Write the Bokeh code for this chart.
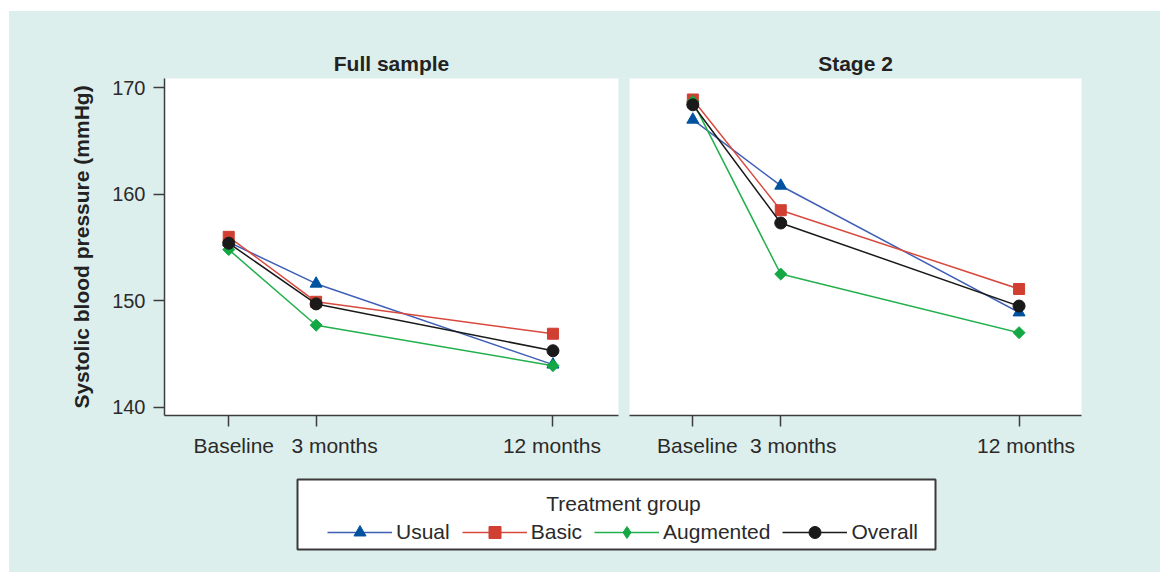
import numpy as np
from bokeh.plotting import figure
from bokeh.layouts import row, column
from bokeh.models import Range1d, FixedTicker, Legend, LegendItem, Label, LinearAxis
from bokeh.embed import file_html
from bokeh.resources import INLINE

# ---- data ----
time_labels = ["Baseline", "3 months", "12 months"]
time_pos = [0, 1, 3.71]
y_ticks = [140, 150, 160, 170]

groups = ["Usual", "Basic", "Augmented", "Overall"]
full_usual = [155.5, 151.6, 144.0]
full_basic = [156.0, 149.9, 146.9]
full_augmented = [154.8, 147.7, 143.9]
full_overall = [155.4, 149.7, 145.3]
stage2_usual = [167.0, 160.8, 148.9]
stage2_basic = [168.9, 158.5, 151.1]
stage2_augmented = [168.7, 152.5, 147.0]
stage2_overall = [168.4, 157.3, 149.5]

panel_titles = ["Full sample", "Stage 2"]
y_title = "Systolic blood pressure (mmHg)"
legend_title = "Treatment group"

# ---- styles ----
BG = "#ddefed"
FONT = "Liberation Sans"
TXT = "#2a2a2a"
AX = "#3c3c3c"
Y_MIN, Y_MAX = 139.22, 170.87
styles = {
    "Usual": dict(line="#3f5fb5", fill="#00529f", marker="triangle", size=12, angle=0),
    "Basic": dict(line="#d8493d", fill="#d13f33", marker="square", size=11, angle=0),
    "Augmented": dict(line="#22b04c", fill="#14a845", marker="square", size=8.5, angle=np.pi / 4),
    "Overall": dict(line="#1a1a1a", fill="#1a1a1a", marker="circle", size=12, angle=0),
}
# horizontal nudges (px) of the time labels relative to their ticks, as in the original
label_nudge_full = [5, 18.5, -1]
label_nudge_stage2 = [4.5, 12.5, 7]


def make_panel(title, series, width, x_rng, mb_left, mb_right, show_y, nudges):
    frame_w = width - mb_left - mb_right
    p = figure(width=width, height=459, output_backend="svg", toolbar_location=None,
               x_range=Range1d(*x_rng), y_range=Range1d(Y_MIN, Y_MAX),
               y_axis_location="left" if show_y else None,
               min_border_left=mb_left, min_border_right=mb_right,
               min_border_top=67, min_border_bottom=55)
    p.border_fill_color = BG
    p.background_fill_color = "white"
    p.outline_line_color = None
    p.grid.visible = False
    p.title.text = title
    p.title.align = "center"
    p.title.text_font = FONT
    p.title.text_font_size = "21px"
    p.title.text_font_style = "bold"
    p.title.text_color = "#222222"
    p.title.standoff = 7

    # axis carrying the tick marks
    xa = p.xaxis[0]
    xa.ticker = FixedTicker(ticks=time_pos)
    xa.major_label_overrides = {t: "" for t in time_pos}
    xa.major_label_text_font_size = "0px"
    xa.major_label_standoff = 0
    axes = [xa]
    if show_y:
        ya = p.yaxis[0]
        ya.ticker = FixedTicker(ticks=y_ticks)
        ya.axis_label = y_title
        ya.axis_label_text_font = FONT
        ya.axis_label_text_font_size = "21px"
        ya.axis_label_text_font_style = "bold"
        ya.axis_label_text_color = "#222222"
        ya.axis_label_standoff = 16
        ya.major_label_text_font_size = "20px"
        ya.major_label_text_font = FONT
        ya.major_label_text_color = TXT
        ya.major_label_standoff = 8
        axes.append(ya)
    for a in axes:
        a.axis_line_color = AX
        a.axis_line_width = 1.5
        a.major_tick_line_color = AX
        a.major_tick_line_width = 1.5
        a.major_tick_out = 11
        a.major_tick_in = 0
        a.minor_tick_out = 0
        a.minor_tick_in = 0

    # second axis carrying the (slightly nudged) time-point labels
    ppu = frame_w / (x_rng[1] - x_rng[0])
    lab_pos = [round(t + dx / ppu, 4) for t, dx in zip(time_pos, nudges)]
    la = LinearAxis(ticker=FixedTicker(ticks=lab_pos),
                    major_label_overrides={lp: lab for lp, lab in zip(lab_pos, time_labels)},
                    axis_line_color=None, major_tick_line_color=None, minor_tick_line_color=None,
                    major_tick_out=0, major_tick_in=0, minor_tick_out=0, minor_tick_in=0,
                    major_label_standoff=7, major_label_text_font=FONT,
                    major_label_text_font_size="21px", major_label_text_color=TXT)
    p.add_layout(la, "below")

    for g, vals in zip(groups, series):
        s = styles[g]
        p.line(time_pos, vals, line_color=s["line"], line_width=1.5)
        p.scatter(time_pos, vals, marker=s["marker"], size=s["size"], angle=s["angle"],
                  fill_color=s["fill"], line_color=s["fill"])
    return p


all_full = [full_usual, full_basic, full_augmented, full_overall]
all_stage2 = [stage2_usual, stage2_basic, stage2_augmented, stage2_overall]

p1 = make_panel(panel_titles[0], all_full, 615, (-0.735, 4.46), 155, 6, True, label_nudge_full)
p2 = make_panel(panel_titles[1], all_stage2, 536, (-0.72, 4.42), 5, 79, False, label_nudge_stage2)

# ---- legend figure (frame = legend box; series drawn off-range so only legend shows) ----
pl = figure(width=1151, height=102, output_backend="svg", toolbar_location=None,
            x_range=Range1d(0, 1), y_range=Range1d(0, 1),
            x_axis_type=None, y_axis_type=None,
            min_border_left=288, min_border_right=225, min_border_top=9, min_border_bottom=23)
pl.border_fill_color = BG
pl.background_fill_color = "white"
pl.outline_line_color = "#3a3a3a"
pl.outline_line_width = 2
pl.grid.visible = False

items = []
for g, vals in zip(groups, all_full):
    s = styles[g]
    lr = pl.line(time_pos, vals, line_color=s["line"], line_width=1.5)
    mk = "diamond" if g == "Augmented" else s["marker"]
    sr = pl.scatter(time_pos, vals, marker=mk, fill_color=s["fill"], line_color=s["fill"])
    items.append(LegendItem(label=g, renderers=[lr, sr]))

legend = Legend(items=items, orientation="horizontal", location=(30, 2),
                glyph_width=65, glyph_height=30, label_height=30, label_standoff=4,
                spacing=12, padding=0, margin=0, border_line_color=None,
                background_fill_alpha=0, label_text_font=FONT, label_text_font_size="21px",
                label_text_color=TXT)
pl.add_layout(legend, "center")
pl.add_layout(Label(x=0.511, y=0.657, text=legend_title, text_align="center",
                    text_baseline="alphabetic", text_font=FONT, text_font_size="21px",
                    text_color=TXT))

top = row(p1, p2, spacing=0, styles={"background-color": BG})
layout = column(top, pl, spacing=0, margin=(11, 0, 0, 9), styles={"background-color": BG})
open("out.html", "w").write(file_html(layout, INLINE))
